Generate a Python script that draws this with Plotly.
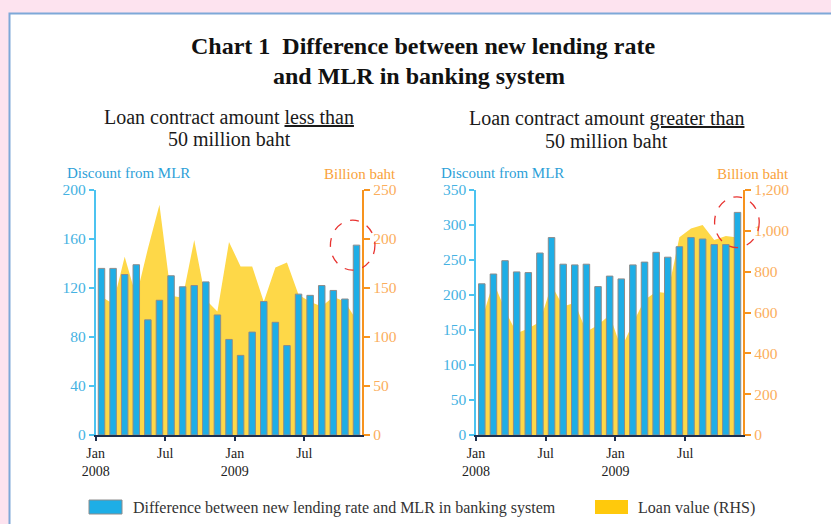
import plotly.graph_objects as go

# ---------------- data ----------------
months = list(range(23))  # Jan 2008 .. Nov 2009
tick_pos = [-0.5, 5.5, 11.5, 17.5]
tick_text = ["Jan<br>2008", "Jul", "Jan<br>2009", "Jul"]

# Loan contract amount less than 50 million baht
diff_small = [136, 136, 131, 139, 94, 110, 130, 121, 122, 125, 98, 78,
              65, 84, 109, 92, 73, 115, 114, 122, 118, 111, 155]
loan_small = [141, 134, 182, 141, 190, 235, 142, 140, 199, 138, 126, 197,
              172, 172, 136, 171, 176, 143, 136, 131, 141, 136, 117]

# Loan contract amount greater than 50 million baht
diff_large = [216, 230, 249, 233, 232, 260, 282, 244, 243, 244, 212, 227,
              223, 243, 247, 261, 254, 269, 282, 280, 272, 272, 318]
loan_large = [563, 751, 612, 498, 522, 555, 735, 629, 648, 506, 539, 588,
              424, 547, 661, 702, 694, 968, 1012, 1029, 955, 975, 967]

BAR_NAME = "Difference between new lending rate and MLR in banking system"
AREA_NAME = "Loan value (RHS)"

# ---------------- style ----------------
FONT = "Liberation Serif"
W, H = 831, 524
BLUE = "#1eaee6"
BAR_EDGE = "#8c8c8c"
AREA = "#fed848"
LEG_YELLOW = "#ffc90c"
LHS_LINE = "#4cc3f0"
LHS_TEXT = "#45b2e2"
RHS_LINE = "#f7931e"
RHS_TEXT = "#fbae5c"
XLINE = "#1d2f4e"

def px_x(v):
    return v / W

def px_y(v):
    return 1 - v / H

ydom = [px_y(435), px_y(190)]
xdom1 = [px_x(95.7), px_x(362.3)]
xdom2 = [px_x(476), px_x(743.3)]
XR = [-0.5, 22.5]

fig = go.Figure()

fig.add_trace(go.Scatter(x=months, y=loan_small, xaxis="x", yaxis="y",
                         mode="lines", line=dict(width=0, color=AREA),
                         fill="tozeroy", fillcolor=AREA, name=AREA_NAME,
                         showlegend=False))
fig.add_trace(go.Bar(x=months, y=diff_small, xaxis="x", yaxis="y2",
                     marker=dict(color=BLUE, line=dict(color=BAR_EDGE, width=1)),
                     width=0.56, name=BAR_NAME, showlegend=False))
fig.add_trace(go.Scatter(x=months, y=loan_large, xaxis="x2", yaxis="y3",
                         mode="lines", line=dict(width=0, color=AREA),
                         fill="tozeroy", fillcolor=AREA, name=AREA_NAME,
                         showlegend=False))
fig.add_trace(go.Bar(x=months, y=diff_large, xaxis="x2", yaxis="y4",
                     marker=dict(color=BLUE, line=dict(color=BAR_EDGE, width=1)),
                     width=0.56, name=BAR_NAME, showlegend=False))

xcommon = dict(range=XR, tickmode="array", tickvals=tick_pos,
               ticktext=tick_text, ticks="outside", ticklen=4, tickwidth=1.5,
               tickcolor=XLINE, showline=True, linecolor=XLINE, linewidth=2,
               showgrid=False, zeroline=False, automargin=False,
               tickfont=dict(family=FONT, size=14, color="#222222"))
lhs = dict(side="left", ticks="outside", ticklen=5, tickwidth=1.5,
           tickcolor=LHS_LINE, showline=True, linecolor=LHS_LINE, linewidth=1.5,
           showgrid=False, zeroline=False, automargin=False,
           tickfont=dict(family=FONT, size=15.5, color=LHS_TEXT))
rhs = dict(side="right", ticks="outside", ticklen=6, tickwidth=1.5,
           tickcolor=RHS_LINE, showline=True, linecolor=RHS_LINE, linewidth=1.5,
           showgrid=False, zeroline=False, automargin=False,
           tickfont=dict(family=FONT, size=15.5, color=RHS_TEXT))

fig.update_layout(
    width=W, height=H,
    margin=dict(l=0, r=0, t=0, b=0, pad=0, autoexpand=False),
    paper_bgcolor="#fde3ef",
    plot_bgcolor="rgba(0,0,0,0)",
    showlegend=False,
    xaxis=dict(domain=xdom1, anchor="y", **xcommon),
    xaxis2=dict(domain=xdom2, anchor="y3", **xcommon),
    yaxis=dict(domain=ydom, anchor="x", range=[0, 250], dtick=50, **rhs),
    yaxis2=dict(overlaying="y", anchor="x", range=[0, 200], dtick=40, **lhs),
    yaxis3=dict(domain=ydom, anchor="x2", range=[0, 1200], dtick=200,
                tickformat=",d", **rhs),
    yaxis4=dict(overlaying="y3", anchor="x2", range=[0, 350], dtick=50, **lhs),
)

def data_to_paper(xv, yv, xdom, yrange):
    px = xdom[0] + (xv - XR[0]) / (XR[1] - XR[0]) * (xdom[1] - xdom[0])
    py = ydom[0] + (yv - yrange[0]) / (yrange[1] - yrange[0]) * (ydom[1] - ydom[0])
    return px, py

def highlight(xdom, yrange, xc, yc, rx, ry):
    x0, y0 = data_to_paper(xc - rx, yc - ry, xdom, yrange)
    x1, y1 = data_to_paper(xc + rx, yc + ry, xdom, yrange)
    return dict(type="circle", xref="paper", yref="paper", x0=x0, x1=x1,
                y0=y0, y1=y1, line=dict(color="#e8322f", width=1.3, dash="dash"))

last = months[-1]
shapes = [
    dict(type="rect", xref="paper", yref="paper", x0=px_x(9.5), x1=1.05,
         y0=-0.05, y1=px_y(13.5), fillcolor="white",
         line=dict(color="#7ea8d8", width=2), layer="below"),
    dict(type="rect", xref="paper", yref="paper", x0=px_x(89), x1=px_x(122),
         y0=px_y(514), y1=px_y(500), fillcolor=BLUE,
         line=dict(color=BAR_EDGE, width=1)),
    dict(type="rect", xref="paper", yref="paper", x0=px_x(595), x1=px_x(628),
         y0=px_y(514), y1=px_y(500), fillcolor=LEG_YELLOW,
         line=dict(width=0)),
    highlight(xdom1, [0, 200], last - 0.33, diff_small[-1], 1.92, 20.4),
    highlight(xdom2, [0, 350], last - 0.05, diff_large[-1] - 14, 1.92, 36.2),
]
fig.update_layout(shapes=shapes)

ann = []
def text(x, y, s, size=15, color="#222222", xanchor="center"):
    ann.append(dict(xref="paper", yref="paper", x=px_x(x), y=px_y(y), text=s,
                    showarrow=False, xanchor=xanchor, yanchor="middle",
                    font=dict(family=FONT, size=size, color=color)))

text(423, 46, "<b>Chart 1\u00a0 Difference between new lending rate</b>", size=24, color="#111111")
text(419, 76, "<b>and MLR in banking system</b>", size=24, color="#111111")
text(229, 117, "Loan contract amount <u>less than</u>", size=20, color="#1a1a1a")
text(229, 139, "50 million baht", size=20, color="#1a1a1a")
text(606, 119, "Loan contract amount <u>greater than</u>", size=20, color="#1a1a1a")
text(606, 141, "50 million baht", size=20, color="#1a1a1a")
text(65, 173, "Discount from MLR", size=15, color="#2d9fd8", xanchor="left")
text(398, 174, "Billion baht", size=15, color="#f9a23a", xanchor="right")
text(439, 173, "Discount from MLR", size=15, color="#2d9fd8", xanchor="left")
text(791, 174, "Billion baht", size=15, color="#f9a23a", xanchor="right")
text(131, 508, BAR_NAME, size=16, color="#333333", xanchor="left")
text(636, 508, AREA_NAME, size=16, color="#333333", xanchor="left")
fig.update_layout(annotations=ann)

fig.write_html("out.html")
